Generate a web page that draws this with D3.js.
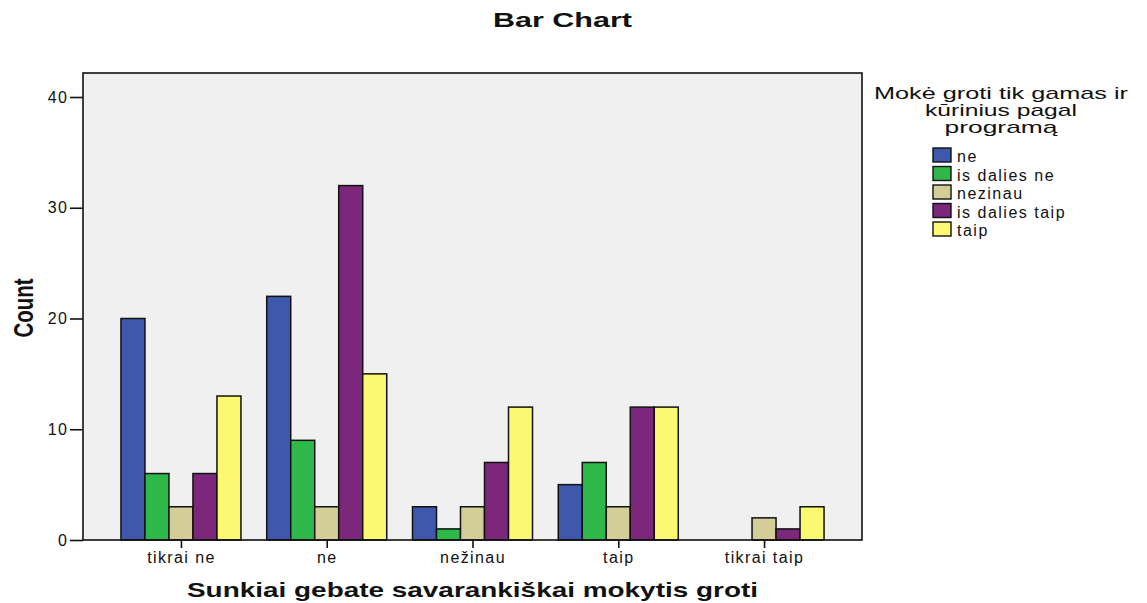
<!DOCTYPE html>
<html>
<head>
<meta charset="utf-8">
<script src="https://cdn.jsdelivr.net/npm/d3@7"></script>
<style>
  body { margin: 0; background: #fff; }
  text { font-family: "Liberation Sans", Arial, sans-serif; fill: #111; }
</style>
</head>
<body>
<svg width="1147" height="603"></svg>
<script>
var categories = ["tikrai ne", "ne", "nežinau", "taip", "tikrai taip"];
var seriesNames = ["ne", "is dalies ne", "nezinau", "is dalies taip", "taip"];
var seriesColors = ["#3e58ab", "#2fb84a", "#d3ce98", "#7b287b", "#fbf872"];
var counts = [
    [20, 22, 3, 5, 0],   // ne
    [6, 9, 1, 7, 0],     // is dalies ne
    [3, 3, 3, 3, 2],     // nezinau
    [6, 32, 7, 12, 1],   // is dalies taip
    [13, 15, 12, 12, 3]  // taip
];
var yTicks = [0, 10, 20, 30, 40];

var svg = d3.select("svg");
var plotLeft = 83, plotRight = 862, plotTop = 73, plotBottom = 540;

var x = d3.scalePoint().domain(categories).range([plotLeft, plotRight]).padding(0.672);
var inner = d3.scaleBand().domain(seriesNames).range([-60, 60]);
var y = d3.scaleLinear().domain([0, 40]).range([plotBottom, 97]);

svg.append("rect")
    .attr("x", plotLeft).attr("y", plotTop)
    .attr("width", plotRight - plotLeft).attr("height", plotBottom - plotTop)
    .attr("fill", "#f0f0f0");

var groups = svg.selectAll(".grp")
    .data(categories)
    .enter().append("g")
    .attr("transform", d => "translate(" + x(d) + ",0)");

groups.selectAll("rect")
    .data((c, ci) => seriesNames.map((s, si) => ({s: s, si: si, v: counts[si][ci]})))
    .enter().filter(d => d.v > 0).append("rect")
    .attr("x", d => inner(d.s))
    .attr("width", inner.bandwidth())
    .attr("y", d => y(d.v))
    .attr("height", d => y(0) - y(d.v))
    .attr("fill", d => seriesColors[d.si])
    .attr("stroke", "#111")
    .attr("stroke-width", 1.5);

svg.append("rect")
    .attr("x", plotLeft).attr("y", plotTop)
    .attr("width", plotRight - plotLeft).attr("height", plotBottom - plotTop)
    .attr("fill", "none").attr("stroke", "#111").attr("stroke-width", 1.6);

// y axis
var yAxis = svg.append("g")
    .attr("transform", "translate(" + plotLeft + ",0)")
    .call(d3.axisLeft(y).tickValues(yTicks).tickSize(13).tickPadding(2));
yAxis.select(".domain").remove();
yAxis.selectAll("line").attr("stroke", "#111").attr("stroke-width", 1.6);
yAxis.selectAll("text").attr("font-size", 16).attr("letter-spacing", 1.2)
    .attr("font-family", "Liberation Sans, Arial, sans-serif");

// x axis
var xAxis = svg.append("g")
    .attr("transform", "translate(0," + plotBottom + ")")
    .call(d3.axisBottom(x).tickSize(8).tickPadding(4));
xAxis.select(".domain").remove();
xAxis.selectAll("line").attr("stroke", "#111").attr("stroke-width", 1.6);
xAxis.selectAll("text").attr("font-size", 16).attr("letter-spacing", 1.4)
    .attr("font-family", "Liberation Sans, Arial, sans-serif");

// titles
svg.append("text")
    .attr("x", 562.5).attr("y", 27)
    .attr("text-anchor", "middle")
    .attr("font-size", 20).attr("font-weight", "bold")
    .attr("textLength", 139).attr("lengthAdjust", "spacingAndGlyphs")
    .text("Bar Chart");

svg.append("text")
    .attr("x", 472.5).attr("y", 597)
    .attr("text-anchor", "middle")
    .attr("font-size", 21).attr("font-weight", "bold")
    .attr("textLength", 571).attr("lengthAdjust", "spacingAndGlyphs")
    .text("Sunkiai gebate savarankiškai mokytis groti");

svg.append("text")
    .attr("transform", "translate(33,308) rotate(-90)")
    .attr("text-anchor", "middle")
    .attr("font-size", 27).attr("font-weight", "bold")
    .attr("textLength", 59).attr("lengthAdjust", "spacingAndGlyphs")
    .style("font-family", "'Liberation Sans Narrow', 'Liberation Sans', sans-serif")
    .text("Count");

// legend
var legendTitle = ["Mokė groti tik gamas ir", "kūrinius pagal", "programą"];
var legendTitleWidths = [254, 152, 113];
svg.append("g").selectAll("text")
    .data(legendTitle)
    .enter().append("text")
    .attr("x", 1001).attr("y", (d, i) => 99 + i * 17)
    .attr("text-anchor", "middle")
    .attr("font-size", 17)
    .attr("textLength", (d, i) => legendTitleWidths[i])
    .attr("lengthAdjust", "spacingAndGlyphs")
    .text(d => d);

var leg = svg.append("g").selectAll("g")
    .data(seriesNames)
    .enter().append("g")
    .attr("transform", (d, i) => "translate(933," + (148 + i * 18.5) + ")");
leg.append("rect")
    .attr("width", 18).attr("height", 14)
    .attr("fill", (d, i) => seriesColors[i])
    .attr("stroke", "#111").attr("stroke-width", 1.4);
leg.append("text")
    .attr("x", 24).attr("y", 14)
    .attr("font-size", 16).attr("letter-spacing", 1.5)
    .text(d => d);
</script>
</body>
</html>
